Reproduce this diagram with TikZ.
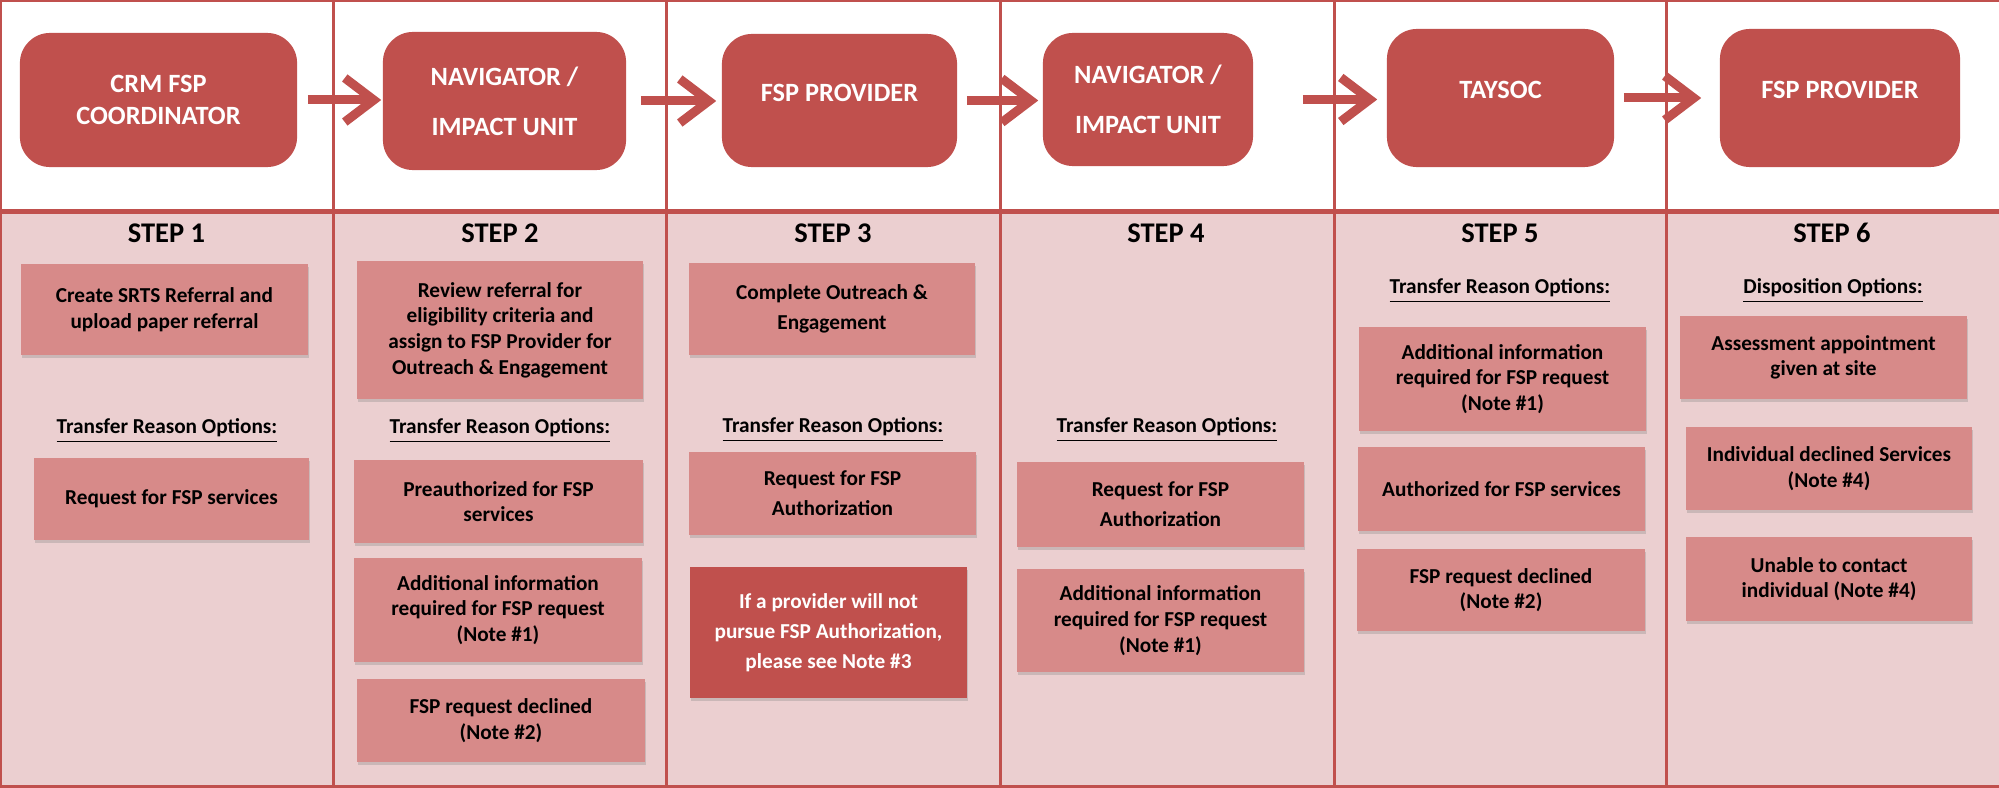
\documentclass[tikz,border=0pt]{standalone}
\usepackage{fontspec}
\setmainfont{Carlito}
\usetikzlibrary{arrows.meta,shadows}

\definecolor{fspred}{HTML}{C0504D}
\definecolor{fsplight}{HTML}{D78A89}
\definecolor{fsppink}{HTML}{EBCFD0}

\begin{document}
\begin{tikzpicture}[x=0.01cm, y=-0.01cm,
  role/.style={fill=fspred, rounded corners=0.3cm, text=white, align=center,
    inner sep=0pt, font=\fontsize{7.5}{9}\selectfont\bfseries},
  uptext/.style={text depth=4.5pt},
  stepno/.style={font=\fontsize{8.1}{9.7}\selectfont\bfseries},
  optlabel/.style={font=\fontsize{6.05}{7.3}\selectfont\bfseries},
  opt/.style={fill=fsplight, align=center, inner sep=0pt, minimum width=2.87cm,
    font=\fontsize{6.05}{7.3}\selectfont\bfseries,
    drop shadow={shadow xshift=0.3pt, shadow yshift=-0.9pt, opacity=0.3}},
  loose/.style={font=\fontsize{6.05}{8.5}\selectfont\bfseries},
  note/.style={opt, fill=fspred, text=white},
  flow/.style={draw=fspred, line width=0.09cm, -{Straight Barb[length=0.29cm, width=0.44cm]}},
  colline/.style={draw=fspred, line width=0.03cm}]

\useasboundingbox (0,0) rectangle (1999,788);
\fill[fsppink] (0,211.5) rectangle (1999,788);

\draw[colline, line width=0.04cm] (0,0) -- (1999,0);
\draw[colline, line width=0.04cm] (0,0) -- (0,788);
\draw[colline, line width=0.06cm] (0,788) -- (1999,788);
\draw[colline, line width=0.05cm] (0,211.5) -- (1999,211.5);
\foreach \x in {333,666.5,1000.4,1334.3,1666.5}
  \draw[colline] (\x,0) -- (\x,788);

\node[role, minimum width=2.77cm, minimum height=1.34cm] (1) at (158.5,100)
{CRM FSP\\COORDINATOR};
\node[role, minimum width=2.43cm, minimum height=1.38cm] (2) at (504.5,101)
{NAVIGATOR /\\[5.2pt]IMPACT UNIT};
\node[role, uptext, minimum width=2.35cm, minimum height=1.33cm] (3) at (839.5,100.5)
{FSP PROVIDER};
\node[role, minimum width=2.10cm, minimum height=1.33cm] (4) at (1148,99.5)
{NAVIGATOR /\\[5.2pt]IMPACT UNIT};
\node[role, uptext, minimum width=2.27cm, minimum height=1.38cm] (5) at (1500.5,98)
{TAYSOC};
\node[role, uptext, minimum width=2.40cm, minimum height=1.38cm] (6) at (1840,98)
{FSP PROVIDER};

\draw[flow, shorten <=0.10cm, shorten >=0.01cm] (1.east) -- (2.west |- 1.east);
\draw[flow, shorten <=0.14cm, shorten >=0.05cm] (2.east) -- (3.west |- 2.east);
\draw[flow, shorten <=0.09cm, shorten >=0.04cm] (3.east) -- (4.west |- 3.east);
\draw[flow, shorten <=0.49cm, shorten >=0.09cm] (4.east) -- (5.west |- 4.east);
\draw[flow, shorten <=0.09cm, shorten >=0.18cm] (5.east) -- (6.west |- 5.east);

\node[stepno] (s1) at (166.5,233) {STEP 1};
\node[stepno] (s2) at (500,233) {STEP 2};
\node[stepno] (s3) at (833,233) {STEP 3};
\node[stepno] (s4) at (1166,233) {STEP 4};
\node[stepno] (s5) at (1500,233) {STEP 5};
\node[stepno] (s6) at (1832,233) {STEP 6};

\node[optlabel] (t1) at (167,431) {\underline{Transfer Reason Options:}};
\node[optlabel] (t2) at (500,431) {\underline{Transfer Reason Options:}};
\node[optlabel] (t3) at (833,430) {\underline{Transfer Reason Options:}};
\node[optlabel] (t4) at (1167,430) {\underline{Transfer Reason Options:}};
\node[optlabel] (t5) at (1500,291) {\underline{Transfer Reason Options:}};
\node[optlabel] (t6) at (1833,291) {\underline{Disposition Options:}};

\node[opt, minimum height=0.91cm] (1a) at (164.5,309.5)
{Create SRTS Referral and\\upload paper referral};
\node[opt, minimum width=2.75cm, minimum height=0.82cm] (1b) at (171.5,499)
{Request for FSP services};

\node[opt, minimum width=2.86cm, minimum height=1.38cm] (2a) at (500,330)
{Review referral for\\eligibility criteria and\\assign to FSP Provider for\\Outreach \& Engagement};
\node[opt, minimum width=2.89cm, minimum height=0.83cm] (2b) at (498.5,501.5)
{Preauthorized for FSP\\services};
\node[opt, minimum width=2.88cm, minimum height=1.04cm] (2c) at (498,610)
{Additional information\\required for FSP request\\(Note \#1)};
\node[opt, minimum width=2.88cm, minimum height=0.83cm] (2d) at (501,720.5)
{FSP request declined\\(Note \#2)};

\node[opt, loose, minimum width=2.86cm, minimum height=0.92cm] (3a) at (832,309)
{Complete Outreach \&\\Engagement};
\node[opt, loose, minimum height=0.83cm] (3b) at (832.5,493.5)
{Request for FSP\\Authorization};
\node[note, loose, minimum width=2.77cm, minimum height=1.31cm] (3c) at (828.5,632.5)
{If a provider will not\\pursue FSP Authorization,\\please see Note \#3};

\node[opt, loose, minimum height=0.85cm] (4a) at (1160.5,504.5)
{Request for FSP\\Authorization};
\node[opt, minimum height=1.03cm] (4b) at (1160.5,620.5)
{Additional information\\required for FSP request\\(Note \#1)};

\node[opt, minimum height=1.04cm] (5a) at (1502.5,379)
{Additional information\\required for FSP request\\(Note \#1)};
\node[opt, minimum height=0.84cm] (5b) at (1501.5,489)
{Authorized for FSP services};
\node[opt, minimum width=2.88cm, minimum height=0.82cm] (5c) at (1501,590)
{FSP request declined\\(Note \#2)};

\node[opt, minimum height=0.83cm] (6a) at (1823.5,357.5)
{Assessment appointment\\given at site};
\node[opt, minimum width=2.86cm, minimum height=0.83cm] (6b) at (1829,468.5)
{Individual declined Services\\(Note \#4)};
\node[opt, minimum width=2.86cm, minimum height=0.84cm] (6c) at (1829,579)
{Unable to contact\\individual (Note \#4)};

\end{tikzpicture}
\end{document}
